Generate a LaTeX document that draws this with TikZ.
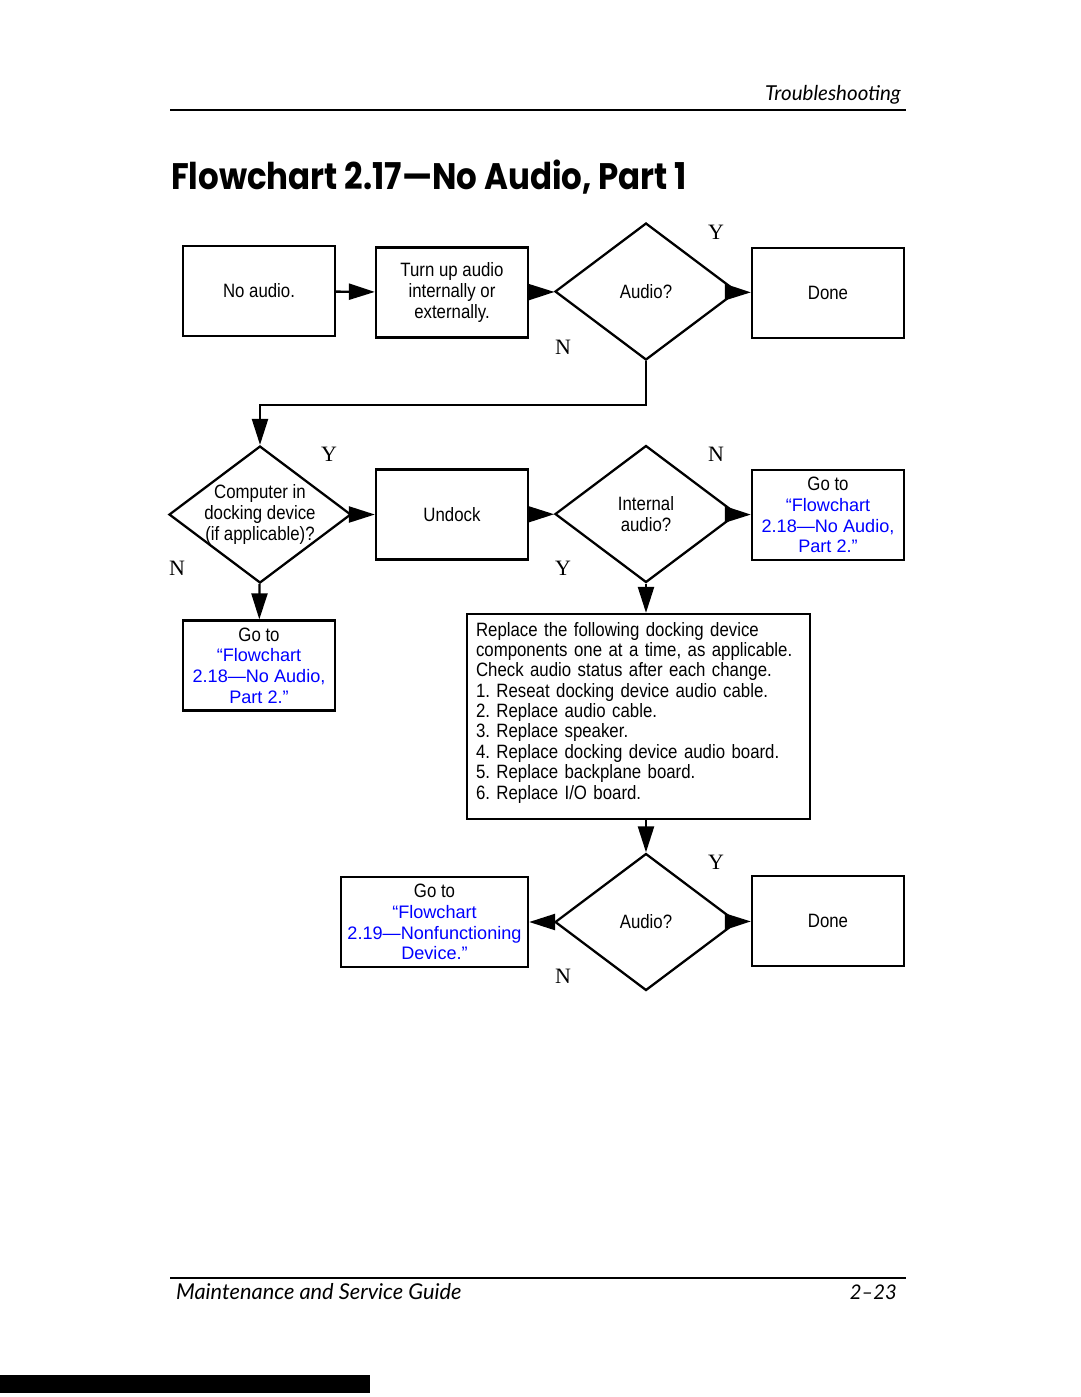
\documentclass[tikz,border=0pt]{standalone}
\usepackage{fontspec}
\setmainfont{Liberation Sans}[FakeStretch=0.87]
\newfontfamily\linkfont{Liberation Sans}
\newfontfamily\ynfont{Liberation Serif}
\newfontfamily\titlefont{Poppins}[FakeStretch=0.88]
\newfontfamily\pagefont{Lato}
\usetikzlibrary{arrows.meta}
\usetikzlibrary{shapes.geometric}
\definecolor{linkblue}{RGB}{0,0,255}
\newcommand{\lnk}[1]{{\linkfont\fontsize{10.3}{11.8}\selectfont\color{linkblue}#1}}

\begin{document}
\begin{tikzpicture}[x=0.02cm,y=-0.02cm,line width=1.3pt,
    box/.style={draw,rectangle,minimum width=3.04cm,minimum height=1.8cm,align=center,inner sep=0pt,font=\fontsize{11}{11.8}\selectfont},
    dec/.style={draw,diamond,minimum width=3.64cm,minimum height=2.74cm,inner sep=0pt,align=center,font=\fontsize{11}{11.8}\selectfont},
    yn/.style={inner sep=0pt,font=\ynfont\fontsize{12.5}{13}\selectfont},
    pfeil/.style={-{Triangle[length=0.52cm,width=0.32cm]}}]
        \useasboundingbox (0,0) rectangle (1080,1397);
        % page head
        \node[anchor=base east,inner sep=0pt,font=\pagefont\itshape\fontsize{11.7}{13}\selectfont] (head) at (902,100) {Troubleshooting};
        \draw[line width=0.8pt] (170,110) -- (906,110);
        \node[anchor=base west,inner sep=0pt,font=\titlefont\bfseries\fontsize{21}{24}\selectfont] (title) at (170,189) {Flowchart 2.17—No Audio, Part 1};

        % first row
        \node[box] (start) at (259,291) {No audio.};
        \node[box] (turn) at (452,292.5) {Turn up audio\\internally or\\externally.};
        \node[dec] (audio1) at (646,291.5) {Audio?};
        \node[box] (done1) at (828,293) {Done};
        \draw[pfeil] (start) -- (turn);
        \draw[pfeil] (turn) -- (audio1);
        \draw[pfeil] (audio1) -- (done1);
        \node[yn] (y1) at (716,232) {Y};
        \node[yn] (n1) at (563,347) {N};

        % second row
        \node[dec,label={[align=center,font=\fontsize{11}{11.8}\selectfont]center:Computer in\\docking device\\(if applicable)?}] (dock) at (260,514.5) {};
        \node[box] (undock) at (452,514.5) {Undock};
        \node[dec] (intern) at (646,514) {Internal\\audio?};
        \node[box] (goto1) at (828,515) {Go to\\\lnk{“Flowchart}\\\lnk{2.18—No Audio,}\\\lnk{Part 2.”}};
        \draw[pfeil] (audio1.south) -- ++(0,44) -| (dock.north);
        \draw[pfeil] (dock) -- (undock);
        \draw[pfeil] (undock) -- (intern);
        \draw[pfeil] (intern) -- (goto1);
        \node[yn] (y2) at (329,454) {Y};
        \node[yn] (n2) at (177,568) {N};
        \node[yn] (n3) at (716,454) {N};
        \node[yn] (y3) at (563,568) {Y};

        \node[box] (goto2) at (259,665.5) {Go to\\\lnk{“Flowchart}\\\lnk{2.18—No Audio,}\\\lnk{Part 2.”}};
        \node[box,minimum width=6.86cm,minimum height=4.1cm,text width=6.5cm,text depth=3.5cm,align=left,font=\fontsize{11}{11.6}\selectfont] (repl) at (638.5,716.5) {Replace the following docking device\\components one at a time, as applicable.\\Check audio status after each change.\\1.\ Reseat docking device audio cable.\\2.\ Replace audio cable.\\3.\ Replace speaker.\\4.\ Replace docking device audio board.\\5.\ Replace backplane board.\\6.\ Replace I/O board.};
        \draw[pfeil] (dock) -- (goto2);
        \draw[pfeil] (intern.south) -- (intern.south |- repl.north);

        % third row
        \node[dec] (audio2) at (646,922) {Audio?};
        \node[box,minimum width=3.74cm] (goto3) at (434.5,922) {Go to\\\lnk{“Flowchart}\\\lnk{2.19—Nonfunctioning}\\\lnk{Device.”}};
        \node[box] (done2) at (828,921) {Done};
        \draw[pfeil] (audio2.north |- repl.south) -- (audio2.north);
        \draw[pfeil] (audio2) -- (goto3);
        \draw[pfeil] (audio2) -- (done2);
        \node[yn] (y4) at (716,862) {Y};
        \node[yn] (n4) at (563,976) {N};

        % page foot
        \draw[line width=0.8pt] (170,1278) -- (906,1278);
        \node[anchor=base west,inner sep=0pt,font=\pagefont\itshape\fontsize{12.4}{14}\selectfont] (guide) at (175,1299) {Maintenance and Service Guide};
        \node[anchor=base east,inner sep=0pt,font=\pagefont\itshape\fontsize{11.5}{13}\selectfont] (page) at (898,1299) {2–23};
        \fill (0,1375) rectangle (370,1393);
\end{tikzpicture}
\end{document}
